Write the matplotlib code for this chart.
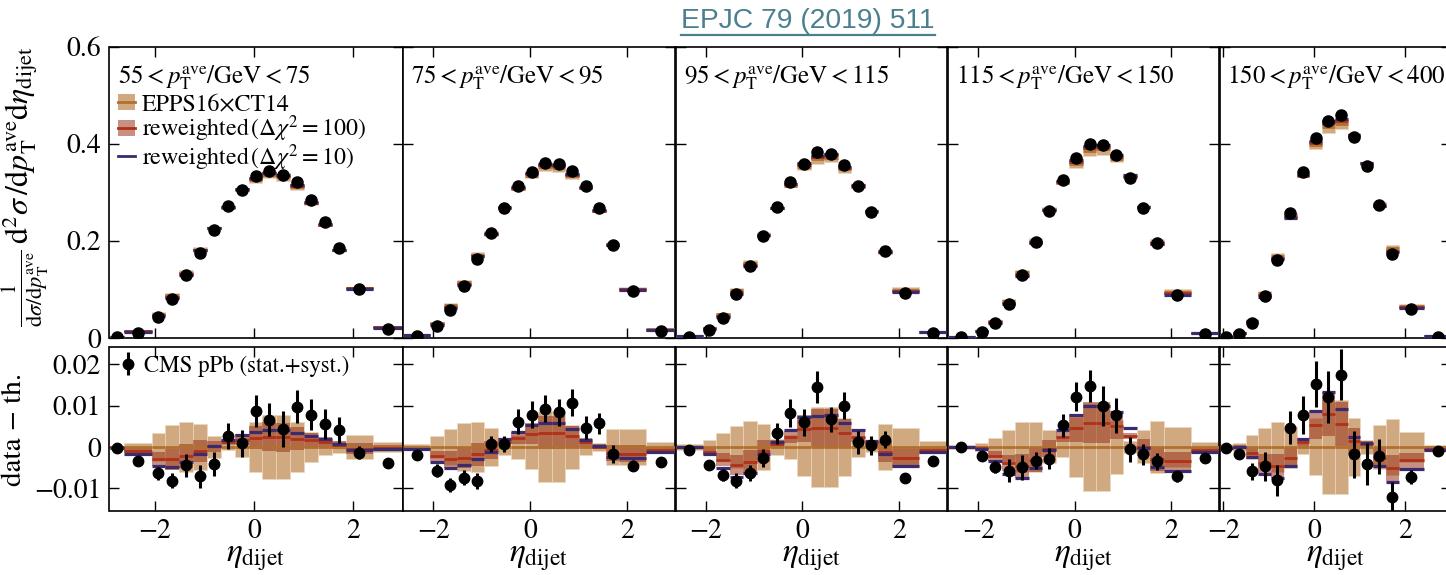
import numpy as np
import matplotlib.pyplot as plt
from matplotlib.patches import Rectangle
from matplotlib.lines import Line2D

plt.rcParams['font.family'] = 'STIXGeneral'
plt.rcParams['mathtext.fontset'] = 'stix'
plt.rcParams['axes.linewidth'] = 1.2
plt.rcParams['xtick.direction'] = 'in'
plt.rcParams['ytick.direction'] = 'in'

# eta_dijet bin edges (all bins), first bin shown in each pT panel
edges = [-2.92, -2.63, -2.07, -1.79, -1.51, -1.23, -0.95, -0.67, -0.39, -0.11,
         0.17, 0.45, 0.73, 1.01, 1.29, 1.57, 1.85, 2.41, 3.0]
first_bin = [0, 1, 1, 1, 2]
pt_bins = [('55', '75'), ('75', '95'), ('95', '115'), ('115', '150'), ('150', '400')]

# normalised cross section (CMS pPb)
data = [
    [0.002, 0.011, 0.044, 0.080, 0.130, 0.175, 0.222, 0.271, 0.305, 0.334, 0.343, 0.336, 0.321, 0.285, 0.238, 0.185, 0.101, 0.018],
    [0.004, 0.025, 0.058, 0.107, 0.163, 0.216, 0.268, 0.313, 0.342, 0.361, 0.359, 0.344, 0.313, 0.268, 0.192, 0.097, 0.014],
    [0.003, 0.017, 0.042, 0.090, 0.148, 0.210, 0.270, 0.322, 0.358, 0.382, 0.378, 0.357, 0.312, 0.260, 0.180, 0.092, 0.010],
    [0.002, 0.012, 0.030, 0.070, 0.130, 0.197, 0.262, 0.325, 0.370, 0.400, 0.398, 0.376, 0.330, 0.268, 0.195, 0.088, 0.008],
    [0.003, 0.008, 0.030, 0.087, 0.161, 0.257, 0.342, 0.412, 0.446, 0.458, 0.414, 0.355, 0.273, 0.173, 0.059, 0.003],
]
# data - theory (EPPS16xCT14 central) and its uncertainty
resid = [
    [-0.0003, -0.0033, -0.0064, -0.0082, -0.0044, -0.0071, -0.0041, 0.0027, 0.0009, 0.0088, 0.0066, 0.0043, 0.0097, 0.0078, 0.0056, 0.0041, -0.0014, -0.0040],
    [-0.0020, -0.0057, -0.0092, -0.0074, -0.0082, 0.0007, 0.0007, 0.0061, 0.0078, 0.0093, 0.0084, 0.0107, 0.0047, 0.0057, -0.0018, -0.0045, -0.0037],
    [-0.0007, -0.0043, -0.0068, -0.0082, -0.0063, -0.0027, 0.0033, 0.0082, 0.0060, 0.0145, 0.0067, 0.0100, 0.0011, 0.0004, 0.0018, -0.0076, -0.0033],
    [0.0000, -0.0022, -0.0049, -0.0057, -0.0049, -0.0033, -0.0028, 0.0053, 0.0122, 0.0148, 0.0099, 0.0077, -0.0006, -0.0018, -0.0035, -0.0071, -0.0027],
    [-0.0002, -0.0018, -0.0059, -0.0047, -0.0081, 0.0047, 0.0077, 0.0153, 0.0120, 0.0175, -0.0018, -0.0041, -0.0023, -0.0120, -0.0072, -0.0010],
]
err = [
    [0.0003, 0.0005, 0.0016, 0.0018, 0.0028, 0.0028, 0.0030, 0.0032, 0.0033, 0.0039, 0.0040, 0.0043, 0.0040, 0.0037, 0.0036, 0.0032, 0.0016, 0.0005],
    [0.0004, 0.0015, 0.0018, 0.0018, 0.0020, 0.0020, 0.0020, 0.0030, 0.0033, 0.0033, 0.0033, 0.0033, 0.0028, 0.0025, 0.0022, 0.0014, 0.0004],
    [0.0003, 0.0010, 0.0015, 0.0018, 0.0020, 0.0022, 0.0025, 0.0033, 0.0033, 0.0039, 0.0030, 0.0032, 0.0028, 0.0023, 0.0020, 0.0010, 0.0004],
    [0.0003, 0.0005, 0.0015, 0.0028, 0.0030, 0.0020, 0.0025, 0.0028, 0.0035, 0.0038, 0.0048, 0.0042, 0.0030, 0.0026, 0.0020, 0.0013, 0.0004],
    [0.0003, 0.0005, 0.0020, 0.0035, 0.0038, 0.0040, 0.0046, 0.0056, 0.0063, 0.0061, 0.0057, 0.0050, 0.0043, 0.0035, 0.0017, 0.0004],
]
# EPPS16xCT14 uncertainty (half width)
epps_w = [
    [0.0002, 0.0010, 0.0034, 0.0053, 0.0061, 0.0055, 0.0026, 0.0008, 0.0025, 0.0060, 0.0078, 0.0078, 0.0060, 0.0037, 0.0020, 0.0015, 0.0028, 0.0012],
    [0.0008, 0.0027, 0.0043, 0.0057, 0.0061, 0.0047, 0.0020, 0.0030, 0.0053, 0.0086, 0.0086, 0.0053, 0.0020, 0.0010, 0.0043, 0.0043, 0.0013],
    [0.0007, 0.0018, 0.0033, 0.0050, 0.0063, 0.0055, 0.0020, 0.0030, 0.0070, 0.0096, 0.0096, 0.0070, 0.0025, 0.0012, 0.0055, 0.0045, 0.0015],
    [0.0004, 0.0010, 0.0022, 0.0042, 0.0060, 0.0060, 0.0040, 0.0025, 0.0072, 0.0107, 0.0107, 0.0065, 0.0015, 0.0040, 0.0063, 0.0049, 0.0012],
    [0.0007, 0.0010, 0.0028, 0.0047, 0.0060, 0.0050, 0.0018, 0.0069, 0.0113, 0.0113, 0.0070, 0.0016, 0.0053, 0.0067, 0.0037, 0.0005],
]
# reweighted, dchi2 = 100: shift of central value and half width
rw100_c = [
    [-0.0001, -0.0009, -0.0028, -0.0030, -0.0022, -0.0010, 0.0002, 0.0011, 0.0018, 0.0022, 0.0025, 0.0024, 0.0020, 0.0016, 0.0012, 0.0005, -0.0004, -0.0003],
    [-0.0004, -0.0022, -0.0030, -0.0026, -0.0018, -0.0007, 0.0011, 0.0022, 0.0032, 0.0034, 0.0034, 0.0026, 0.0011, 0.0001, -0.0015, -0.0016, -0.0007],
    [-0.0001, -0.0011, -0.0031, -0.0043, -0.0037, -0.0010, 0.0007, 0.0024, 0.0044, 0.0045, 0.0046, 0.0034, 0.0025, 0.0009, -0.0011, -0.0027, -0.0008],
    [0.0000, -0.0003, -0.0021, -0.0039, -0.0045, -0.0031, -0.0004, 0.0024, 0.0047, 0.0059, 0.0059, 0.0051, 0.0027, -0.0001, -0.0029, -0.0035, -0.0008],
    [-0.0002, 0.0000, -0.0015, -0.0039, -0.0045, -0.0027, 0.0012, 0.0053, 0.0079, 0.0056, 0.0014, 0.0006, -0.0027, -0.0051, -0.0032, -0.0005],
]
rw100_w = [
    [0.0002, 0.0006, 0.0017, 0.0025, 0.0028, 0.0026, 0.0013, 0.0006, 0.0013, 0.0028, 0.0035, 0.0035, 0.0028, 0.0018, 0.0011, 0.0009, 0.0014, 0.0007],
    [0.0004, 0.0013, 0.0020, 0.0026, 0.0028, 0.0022, 0.0010, 0.0014, 0.0025, 0.0040, 0.0040, 0.0025, 0.0010, 0.0006, 0.0020, 0.0020, 0.0007],
    [0.0004, 0.0009, 0.0016, 0.0024, 0.0030, 0.0026, 0.0010, 0.0014, 0.0033, 0.0046, 0.0046, 0.0033, 0.0012, 0.0006, 0.0026, 0.0022, 0.0008],
    [0.0003, 0.0006, 0.0012, 0.0020, 0.0029, 0.0029, 0.0020, 0.0013, 0.0034, 0.0050, 0.0050, 0.0031, 0.0008, 0.0020, 0.0030, 0.0024, 0.0007],
    [0.0004, 0.0005, 0.0014, 0.0023, 0.0029, 0.0025, 0.0010, 0.0033, 0.0053, 0.0053, 0.0033, 0.0009, 0.0025, 0.0032, 0.0018, 0.0004],
]
# reweighted, dchi2 = 10: shift of central value
rw10_c = [
    [-0.0002, -0.0016, -0.0047, -0.0049, -0.0037, -0.0016, 0.0003, 0.0018, 0.0030, 0.0037, 0.0041, 0.0040, 0.0033, 0.0026, 0.0020, 0.0008, -0.0007, -0.0005],
    [-0.0006, -0.0037, -0.0050, -0.0043, -0.0030, -0.0012, 0.0019, 0.0037, 0.0053, 0.0057, 0.0057, 0.0043, 0.0018, 0.0002, -0.0025, -0.0027, -0.0012],
    [-0.0001, -0.0018, -0.0052, -0.0072, -0.0062, -0.0017, 0.0012, 0.0040, 0.0073, 0.0075, 0.0077, 0.0057, 0.0041, 0.0015, -0.0018, -0.0045, -0.0013],
    [0.0000, -0.0005, -0.0035, -0.0065, -0.0075, -0.0052, -0.0007, 0.0040, 0.0078, 0.0098, 0.0098, 0.0085, 0.0045, -0.0002, -0.0048, -0.0058, -0.0013],
    [-0.0003, 0.0000, -0.0025, -0.0065, -0.0075, -0.0045, 0.0020, 0.0088, 0.0132, 0.0093, 0.0023, 0.0010, -0.0045, -0.0085, -0.0053, -0.0008],
]

legend_labels = [u'EPPS16\u00d7CT14', r'reweighted$\,(\Delta\chi^2 = 100)$',
                 r'reweighted$\,(\Delta\chi^2 = 10)$']

tan = '#c89a6a'
tan_line = '#b0702e'
red = '#9b351c'
red_line = '#b03018'
purple = '#3a2a6e'
teal = '#4a7f8f'

W, H = 1446, 575
fig = plt.figure(figsize=(W / 100, H / 100), dpi=100)

px_left = [109.5, 403, 675.5, 948, 1220]
px_right = [402.5, 675, 947, 1219, 1451]
top_y = (46.5, 338)
bot_y = (347, 511)


def add_ax(l, r, t, b):
    return fig.add_axes([l / W, 1 - b / H, (r - l) / W, (b - t) / H])


def draw_bands(ax, e, base, k):
    w = np.diff(e)
    c = 0.5 * (e[:-1] + e[1:])
    tw = np.array(epps_w[k])
    rc = np.array(rw100_c[k])
    rw = np.array(rw100_w[k])
    pc = np.array(rw10_c[k])
    ax.bar(c, 2 * tw, bottom=base - tw, width=w, color=tan, alpha=0.85,
           edgecolor='#ecd8bf', linewidth=0.6, zorder=1)
    ax.bar(c, 2 * rw, bottom=base + rc - rw, width=w, color=red, alpha=0.55,
           linewidth=0, zorder=2)
    ax.hlines(base, e[:-1], e[1:], color=tan_line, lw=2, zorder=3)
    ax.hlines(base + rc, e[:-1], e[1:], color=red_line, lw=2, zorder=3)
    ax.hlines(base + pc, e[:-1], e[1:], color=purple, lw=2.3, zorder=4)


for k in range(5):
    e = np.array(edges[first_bin[k]:])
    c = 0.5 * (e[:-1] + e[1:])
    d = np.array(data[k])
    r = np.array(resid[k])
    th = d - r

    # upper panel
    ax = add_ax(px_left[k], px_right[k], *top_y)
    draw_bands(ax, e, th, k)
    ax.plot(c, d, 'o', color='k', ms=8, zorder=5)
    ax.set_xlim(e[0], e[-1])
    ax.set_ylim(0, 0.6)
    ax.set_xticks([-2, 0, 2])
    ax.set_yticks([0, 0.2, 0.4, 0.6])
    ax.tick_params(top=True, right=True, length=7, width=1, labelbottom=False,
                   labelsize=20, pad=6)
    aw = px_right[k] - px_left[k]
    ah = top_y[1] - top_y[0]
    if k == 0:
        ax.set_yticklabels(['0', '0.2', '0.4', '0.6'])
        ax.set_ylabel(r'$\frac{1}{\mathrm{d}\sigma/\mathrm{d}p_{\mathrm{T}}^{\mathrm{ave}}}\,'
                      r'\mathrm{d}^2\sigma\,/\mathrm{d}p_{\mathrm{T}}^{\mathrm{ave}}'
                      r'\mathrm{d}\eta_{\mathrm{dijet}}$', fontsize=23)
        ax.yaxis.set_label_coords(-0.2, 0.52)
        # legend rows drawn by hand (handle box + label)
        fx = lambda px: (px - px_left[k]) / aw
        fy = lambda py: 1 - (py - top_y[0]) / ah
        hw, hh = 17 / aw, 16 / ah
        ax.add_patch(Rectangle((fx(118), fy(110)), hw, hh, transform=ax.transAxes,
                               facecolor=tan, alpha=0.85, lw=0, clip_on=False))
        ax.plot([fx(118), fx(135)], [fy(102)] * 2, transform=ax.transAxes,
                color=tan_line, lw=2, clip_on=False)
        ax.add_patch(Rectangle((fx(118), fy(136)), hw, hh, transform=ax.transAxes,
                               facecolor=red, alpha=0.55, lw=0, clip_on=False))
        ax.plot([fx(118), fx(135)], [fy(128)] * 2, transform=ax.transAxes,
                color=red_line, lw=2, clip_on=False)
        ax.plot([fx(118), fx(135)], [fy(156)] * 2, transform=ax.transAxes,
                color=purple, lw=2, clip_on=False)
        for lab, base_px in zip(legend_labels, [110, 135.7, 165.5]):
            ax.text(fx(142), fy(base_px), lab, transform=ax.transAxes,
                    ha='left', va='baseline', fontsize=17.2)
    else:
        ax.set_yticklabels([])
    lo, hi = pt_bins[k]
    ax.text(0.03, 1 - (83 - top_y[0]) / ah,
            r'$%s < p_{\mathrm{T}}^{\mathrm{ave}}/\mathrm{GeV} < %s$' % (lo, hi),
            transform=ax.transAxes, ha='left', va='baseline', fontsize=18)

    # lower panel
    ax2 = add_ax(px_left[k], px_right[k], *bot_y)
    draw_bands(ax2, e, np.zeros(len(c)), k)
    eb = ax2.errorbar(c, r, yerr=err[k], fmt='o', color='k', ms=7.5,
                      elinewidth=2.2, capsize=0, zorder=5)
    ax2.set_xlim(e[0], e[-1])
    ax2.set_ylim(-0.0155, 0.0242)
    ax2.set_xticks([-2, 0, 2])
    ax2.set_xticklabels([u'\u22122', '0', '2'])
    ax2.set_yticks([-0.01, 0, 0.01, 0.02])
    ax2.tick_params(top=True, right=True, length=7, width=1, labelsize=20, pad=6)
    ax2.set_xlabel(r'$\eta_{\mathrm{dijet}}$', fontsize=24)
    ax2.xaxis.set_label_coords(0.5, -0.2)
    if k == 0:
        ax2.set_yticklabels([u'\u22120.01', '0', '0.01', '0.02'])
        ax2.set_ylabel(u'data \u2212 th.', fontsize=21)
        ax2.yaxis.set_label_coords(-0.28, 0.5)
        ax2.legend([eb], ['CMS pPb (stat.+syst.)'], loc='upper left',
                   bbox_to_anchor=(0.04, 0.95), frameon=False, fontsize=16.5,
                   handlelength=0.6, handletextpad=0.4, borderpad=0, borderaxespad=0)
    else:
        ax2.set_yticklabels([])

t = fig.text(808 / W, 1 - 21 / H, 'EPJC 79 (2019) 511', ha='center', va='center',
             fontsize=20.3, color=teal, family='Liberation Sans')
fig.canvas.draw()
bb = t.get_window_extent()
fig.add_artist(Line2D([bb.x0 / W, bb.x1 / W], [1 - 34.5 / H] * 2,
                      transform=fig.transFigure, color=teal, lw=1.6))

plt.savefig('out.png', dpi=100)
